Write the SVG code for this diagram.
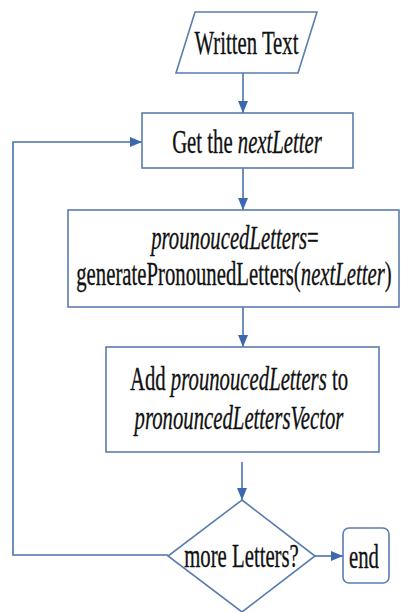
<svg xmlns="http://www.w3.org/2000/svg" width="401" height="612" viewBox="0 0 401 612">
<defs>
<marker id="arr" markerUnits="userSpaceOnUse" markerWidth="12" markerHeight="10" refX="12" refY="5" orient="auto">
<path d="M0,0 L12,5 L0,10 z" fill="#3b68ae"/>
</marker>
<style>
.shape{fill:#ffffff;stroke:#5a7db0;stroke-width:1.6}
.conn{fill:none;stroke:#4a72aa;stroke-width:1.6}
.t{font-family:"Liberation Serif","Times New Roman",serif;font-size:34px;fill:#111111;stroke:#111111;stroke-width:0.35;text-anchor:middle}
.i{font-style:italic}
</style>
</defs>
<rect width="401" height="612" fill="#ffffff"/>
<g id="connectors">
<line class="conn" x1="243" y1="73" x2="243" y2="113" marker-end="url(#arr)"/>
<line class="conn" x1="243" y1="168" x2="243" y2="210" marker-end="url(#arr)"/>
<line class="conn" x1="243" y1="307" x2="243" y2="347" marker-end="url(#arr)"/>
<line class="conn" x1="242" y1="462" x2="242" y2="500" marker-end="url(#arr)"/>
<line class="conn" x1="315" y1="556" x2="343" y2="556" marker-end="url(#arr)"/>
<polyline class="conn" points="168,555 13,555 13,142 142,142" marker-end="url(#arr)"/>
</g>
<g id="written-text">
<polygon class="shape" points="195,12 317,12 298,73 176,73"/>
<text class="t" transform="matrix(0.61 0 0 1 246.5 54)">Written Text</text>
</g>
<g id="get-next-letter">
<rect class="shape" x="142" y="113" width="211" height="55"/>
<text class="t" transform="matrix(0.61 0 0 1 247 153)">Get the <tspan class="i">nextLetter</tspan></text>
</g>
<g id="generate">
<rect class="shape" x="68" y="210" width="331" height="97"/>
<text class="t" transform="matrix(0.61 0 0 1 235 249)"><tspan class="i">prounoucedLetters</tspan>=</text>
<text class="t" transform="matrix(0.61 0 0 1 234 285)">generatePronounedLetters(<tspan class="i">nextLetter</tspan>)</text>
</g>
<g id="add-to-vector">
<rect class="shape" x="106" y="347" width="273" height="105"/>
<text class="t" transform="matrix(0.61 0 0 1 239 390)">Add <tspan class="i">prounoucedLetters</tspan> to</text>
<text class="t i" transform="matrix(0.61 0 0 1 239 429)">pronouncedLettersVector</text>
</g>
<g id="more-letters">
<polygon class="shape" points="242,500 315,556 242,612 168,556"/>
<text class="t" transform="matrix(0.61 0 0 1 241.5 567)">more Letters?</text>
</g>
<g id="end">
<rect class="shape" x="343" y="528" width="46" height="55" rx="6"/>
<text class="t" transform="matrix(0.61 0 0 1 364 568)">end</text>
</g>
</svg>
